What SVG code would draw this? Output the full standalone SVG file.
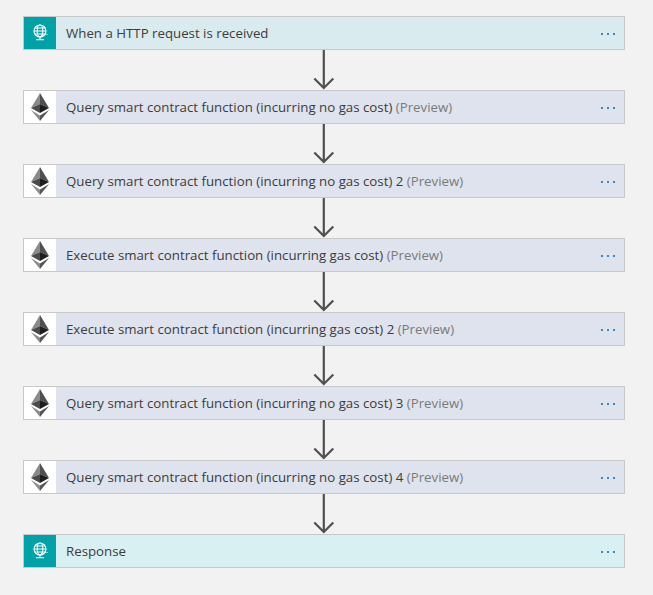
<svg xmlns="http://www.w3.org/2000/svg" xmlns:xlink="http://www.w3.org/1999/xlink" width="653" height="595" viewBox="0 0 653 595">
<style>
.box{stroke:#c8c8c8;stroke-width:1}
.req{fill:#d9ebee}
.res{fill:#d9f0f2}
.eth{fill:#dfe3ed}
.ib{fill:#fff}
.it{fill:#00a1a7}
text{font-family:"Open Sans","Noto Sans",sans-serif;font-size:13.27px;fill:#3c3c3c}
.pv{fill:#7a7a7a}
.d{fill:#3a87c8}
.c{fill:none;stroke:#505050;stroke-width:2.2}
.g{fill:none;stroke:#fff;stroke-width:1.1}
</style>
<defs>
<g id="dots"><rect x="0" y="0" width="2" height="2" class="d"/><rect x="6" y="0" width="2" height="2" class="d"/><rect x="12" y="0" width="2" height="2" class="d"/></g>
<g id="ethlogo">
<polygon points="0,-14 -9,1 0,-3" fill="#8a8a8a"/>
<polygon points="0,-14 9,1 0,-3" fill="#505050"/>
<polygon points="-9,1 0,-3 0,6" fill="#4a4a4a"/>
<polygon points="9,1 0,-3 0,6" fill="#1e1e1e"/>
<polygon points="-9,3 0,8.500 0,14" fill="#8c8c8c"/>
<polygon points="9,3 0,8.500 0,14" fill="#555"/>
</g>
<g id="globe">
<circle cx="0" cy="-2" r="6" class="g"/>
<ellipse cx="0" cy="-2" rx="2.800" ry="6" class="g"/>
<path d="M-6-2H6M-5-5H5M-5 1H5M0 4V6.500M-4 6.800H4" class="g"/>
<path d="M5.500 1.500H8" class="g" stroke-dasharray="1 1"/>
</g>
<g id="arrow"><path d="M0 0V38M-9.500 28.500L0 38L9.500 28.500" class="c"/></g>
</defs>
<rect width="653" height="595" fill="#f2f2f2"/>
<g id="connectors">
<use xlink:href="#arrow" href="#arrow" x="323.800" y="50"/>
<use xlink:href="#arrow" href="#arrow" x="323.800" y="124"/>
<use xlink:href="#arrow" href="#arrow" x="323.800" y="198"/>
<use xlink:href="#arrow" href="#arrow" x="323.800" y="272"/>
<use xlink:href="#arrow" href="#arrow" x="323.800" y="346"/>
<use xlink:href="#arrow" href="#arrow" x="323.800" y="420"/>
<use xlink:href="#arrow" href="#arrow" x="323.800" y="494"/>
</g>
<g id="n0"><rect class="box req" x="23.500" y="16.500" width="601" height="33"/><rect class="it" x="24" y="17" width="32" height="32"/><use href="#globe" x="40" y="33"/><text x="66" y="37.500">When a HTTP request is received</text><use href="#dots" x="601" y="33"/></g>
<g id="n1"><rect class="box eth" x="23.500" y="90.500" width="601" height="33"/><rect class="ib" x="24" y="91" width="32" height="32"/><use href="#ethlogo" x="40" y="107"/><text x="66" y="111.500">Query smart contract function (incurring no gas cost) <tspan class="pv">(Preview)</tspan></text><use href="#dots" x="601" y="107"/></g>
<g id="n2"><rect class="box eth" x="23.500" y="164.500" width="601" height="33"/><rect class="ib" x="24" y="165" width="32" height="32"/><use href="#ethlogo" x="40" y="181"/><text x="66" y="185.500">Query smart contract function (incurring no gas cost) 2 <tspan class="pv">(Preview)</tspan></text><use href="#dots" x="601" y="181"/></g>
<g id="n3"><rect class="box eth" x="23.500" y="238.500" width="601" height="33"/><rect class="ib" x="24" y="239" width="32" height="32"/><use href="#ethlogo" x="40" y="255"/><text x="66" y="259.500">Execute smart contract function (incurring gas cost) <tspan class="pv">(Preview)</tspan></text><use href="#dots" x="601" y="255"/></g>
<g id="n4"><rect class="box eth" x="23.500" y="312.500" width="601" height="33"/><rect class="ib" x="24" y="313" width="32" height="32"/><use href="#ethlogo" x="40" y="329"/><text x="66" y="333.500">Execute smart contract function (incurring gas cost) 2 <tspan class="pv">(Preview)</tspan></text><use href="#dots" x="601" y="329"/></g>
<g id="n5"><rect class="box eth" x="23.500" y="386.500" width="601" height="33"/><rect class="ib" x="24" y="387" width="32" height="32"/><use href="#ethlogo" x="40" y="403"/><text x="66" y="407.500">Query smart contract function (incurring no gas cost) 3 <tspan class="pv">(Preview)</tspan></text><use href="#dots" x="601" y="403"/></g>
<g id="n6"><rect class="box eth" x="23.500" y="460.500" width="601" height="33"/><rect class="ib" x="24" y="461" width="32" height="32"/><use href="#ethlogo" x="40" y="477"/><text x="66" y="481.500">Query smart contract function (incurring no gas cost) 4 <tspan class="pv">(Preview)</tspan></text><use href="#dots" x="601" y="477"/></g>
<g id="n7"><rect class="box res" x="23.500" y="534.500" width="601" height="33"/><rect class="it" x="24" y="535" width="32" height="32"/><use href="#globe" x="40" y="551"/><text x="66" y="555.500">Response</text><use href="#dots" x="601" y="551"/></g>
</svg>
